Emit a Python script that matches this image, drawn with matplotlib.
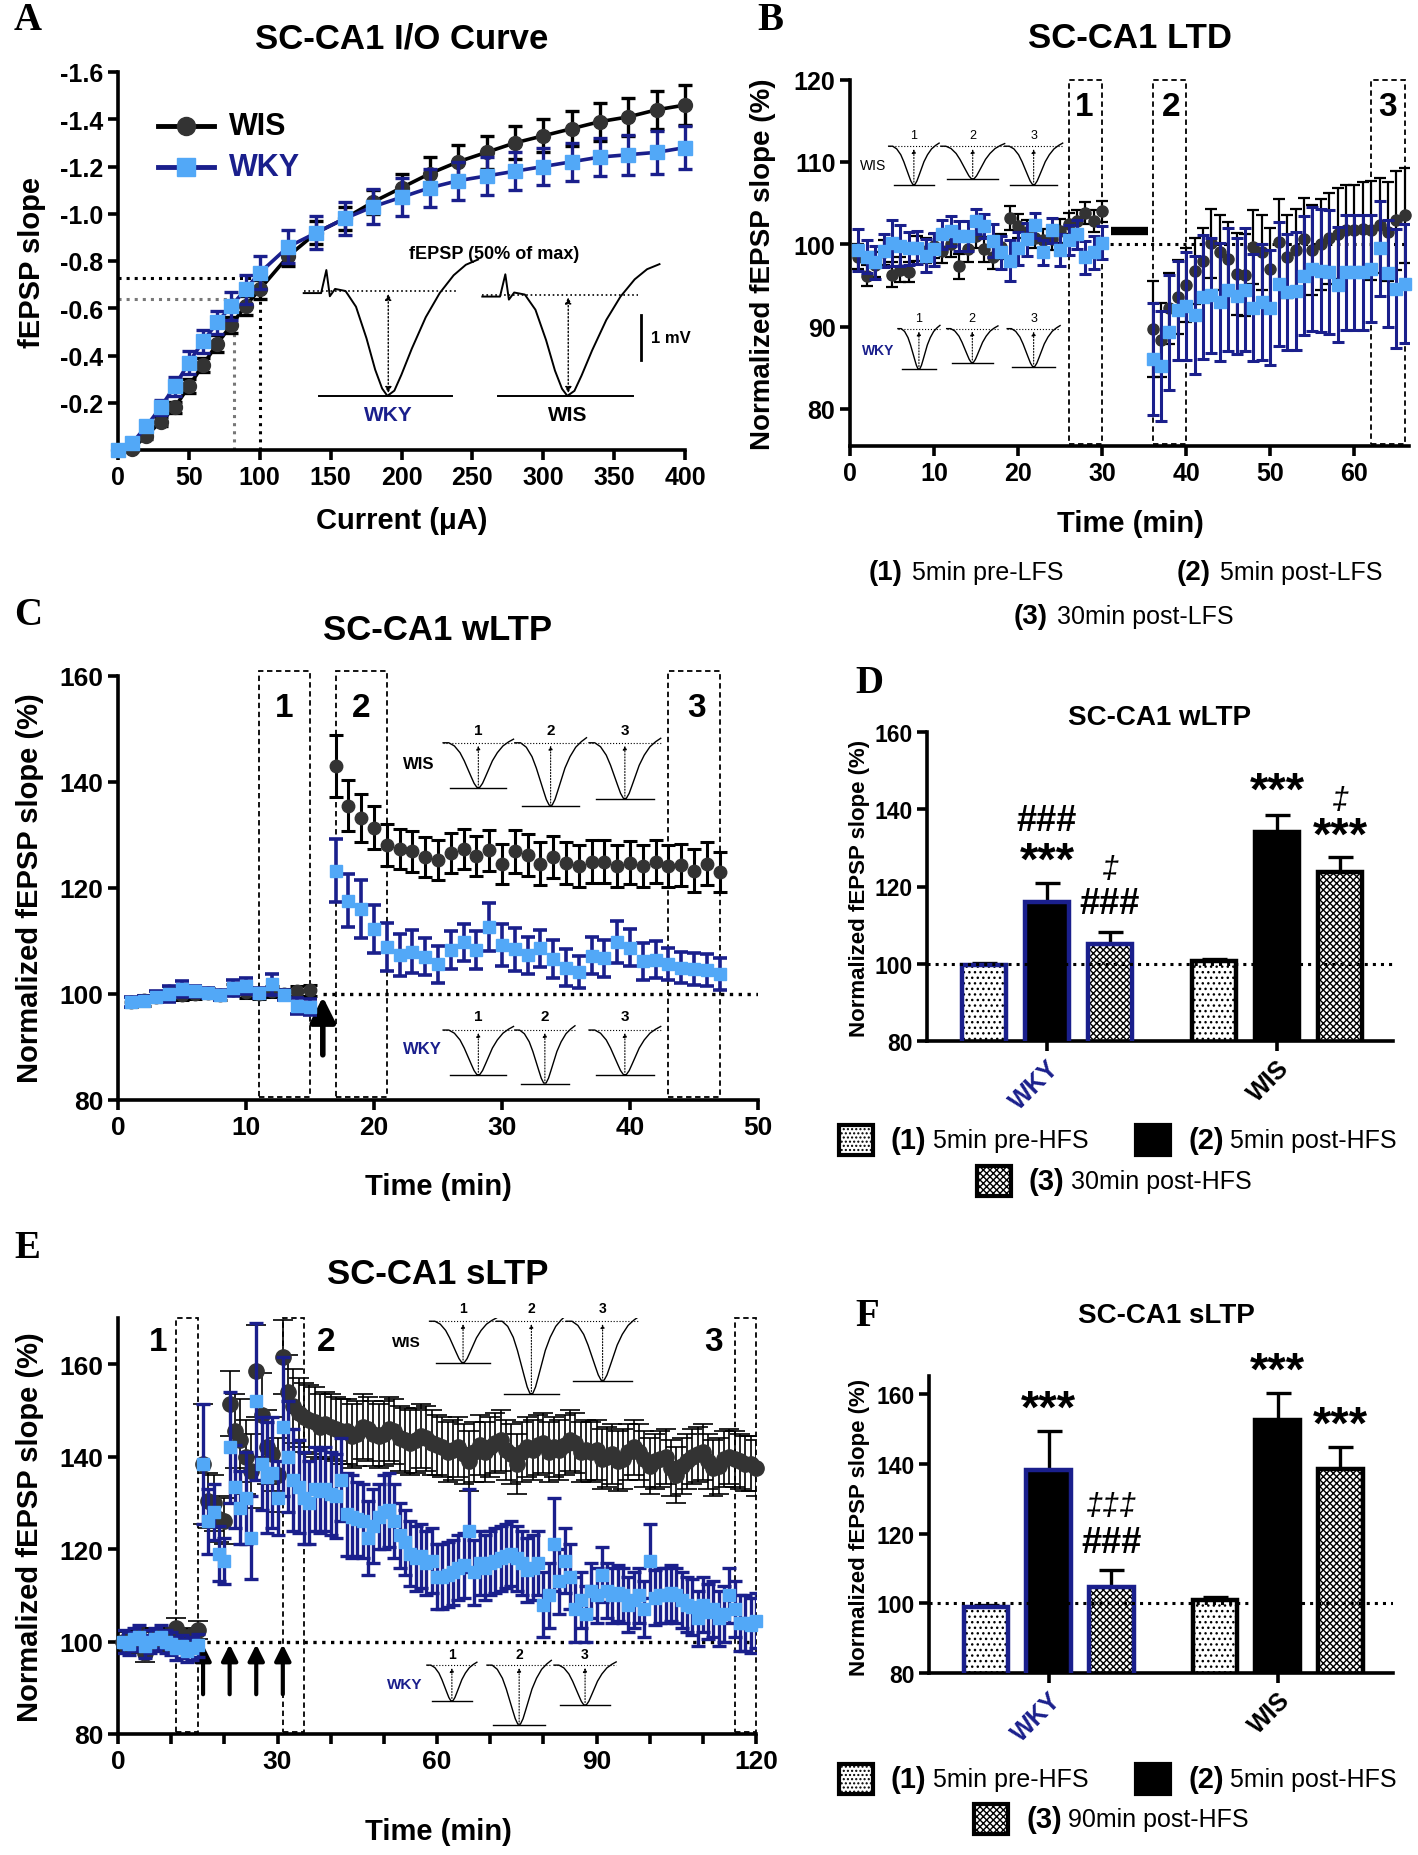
import numpy as np
import matplotlib.pyplot as plt
from matplotlib.patches import Rectangle

plt.rcParams['font.family'] = ['Liberation Sans', 'DejaVu Sans']
plt.rcParams['axes.unicode_minus'] = False
plt.rcParams['hatch.linewidth'] = 1.0

W, H = 1418, 1856
NAVY = '#1a1f8c'
LIGHT = '#52a8f7'
DARK = '#333333'

# ---------------- data ----------------
# A: input/output curve
io_current = [0, 10, 20, 30, 40, 50, 60, 70, 80, 90, 100, 120, 140, 160, 180, 200,
              220, 240, 260, 280, 300, 320, 340, 360, 380, 400]
io_wis = [0, -0.005, -0.06, -0.12, -0.18, -0.27, -0.36, -0.45, -0.53, -0.61, -0.68, -0.82,
          -0.92, -0.98, -1.05, -1.11, -1.17, -1.22, -1.26, -1.30, -1.33, -1.36, -1.39,
          -1.41, -1.44, -1.46]
io_wis_err = [0, 0.01, 0.015, 0.02, 0.025, 0.03, 0.03, 0.035, 0.035, 0.04, 0.04, 0.04,
              0.05, 0.05, 0.05, 0.06, 0.07, 0.07, 0.07, 0.07, 0.07, 0.075, 0.08, 0.08,
              0.08, 0.085]
io_wky = [0, -0.03, -0.10, -0.18, -0.27, -0.37, -0.46, -0.54, -0.61, -0.68, -0.75, -0.86,
          -0.92, -0.98, -1.03, -1.07, -1.11, -1.14, -1.16, -1.18, -1.20, -1.22, -1.24,
          -1.25, -1.26, -1.28]
io_wky_err = [0, 0.015, 0.02, 0.03, 0.04, 0.05, 0.05, 0.05, 0.06, 0.06, 0.07, 0.07, 0.07,
              0.07, 0.075, 0.08, 0.08, 0.08, 0.08, 0.08, 0.08, 0.08, 0.08, 0.085, 0.09, 0.09]

# B: LTD time course
ltd_time = list(range(1, 31)) + list(range(36, 67))
ltd_wis = [98.5, 96.2, 97.5, 99.0, 96.3, 96.9, 96.6, 99.5, 99.2, 99.8, 99.2, 100.0, 97.3,
           99.4, 101.0, 99.4, 98.5, 99.7, 103.2, 102.2, 101.5, 100.8, 100.5, 100.6, 101.6,
           102.5, 102.8, 103.8, 102.8, 104.0,
           89.7, 88.4, 92.2, 93.6, 95.0, 96.8, 98.0, 100.1, 99.0, 98.2, 96.4, 96.3, 99.7,
           99.0, 97.0, 100.3, 98.5, 99.3, 100.6, 99.3, 100.0, 100.7, 101.3, 101.7, 101.7,
           101.8, 101.7, 102.3, 101.5, 102.9, 103.5]
ltd_wis_err = [1.5, 1.3, 1.5, 1.5, 1.5, 1.5, 1.2, 1.5, 1.5, 1.5, 1.5, 1.5, 1.5, 1.5, 1.5,
               1.5, 1.5, 1.5, 1.5, 1.5, 1.5, 1.3, 1.3, 1.3, 1.5, 1.3, 1.3, 1.3, 1.3, 1.3,
               5.8, 4.5, 4.3, 4.5, 4.5, 4.0, 4.0, 4.2, 4.5, 4.5, 5.0, 5.0, 4.5, 4.5, 5.0,
               5.2, 5.0, 5.0, 5.0, 5.5, 5.5, 5.5, 5.5, 5.5, 5.5, 5.8, 6.0, 5.8, 6.0, 6.0, 5.8]
ltd_wky = [99.3, 98.5, 97.8, 99.2, 100.2, 99.8, 99.5, 99.6, 98.6, 99.4, 101.2, 101.6, 101.0,
           101.0, 102.8, 102.2, 100.4, 99.0, 98.0, 99.5, 100.6, 102.3, 99.0, 101.7, 99.3,
           100.5, 101.2, 98.4, 99.0, 100.2,
           86.1, 85.2, 89.3, 92.0, 92.5, 91.4, 93.6, 93.8, 93.0, 94.5, 93.7, 94.5, 92.3,
           93.0, 92.3, 95.2, 94.2, 94.3, 96.2, 97.0, 96.8, 96.6, 95.1, 96.6, 96.6, 96.6,
           97.0, 99.5, 96.5, 94.6, 95.2]
ltd_wky_err = [2.5, 2.0, 2.0, 2.0, 2.8, 2.5, 2.0, 2.0, 2.0, 2.0, 1.8, 1.8, 1.8, 1.8, 1.5,
               1.5, 2.0, 2.0, 2.5, 2.0, 2.0, 1.5, 1.5, 1.5, 2.0, 1.8, 1.8, 2.0, 2.0, 2.0,
               6.8, 6.7, 7.0, 6.0, 6.5, 7.2, 7.5, 7.0, 7.2, 7.5, 7.0, 7.5, 6.5, 7.0, 7.0,
               7.5, 7.0, 7.2, 7.2, 7.5, 7.5, 7.5, 7.0, 7.0, 7.0, 7.0, 6.5, 5.8, 6.5, 7.2, 7.2]

# C: weak LTP time course
wltp_time = list(range(1, 16)) + list(range(17, 48))
wltp_wis = [98.5, 98.8, 99.5, 100.5, 99.8, 100.0, 100.2, 99.8, 100.8, 100.3, 100.0, 100.5,
            100.0, 100.6, 100.7,
            143.0, 135.5, 133.2, 131.4, 128.1, 127.3, 126.9, 125.9, 125.3, 126.6, 127.4,
            126.1, 127.1, 124.5, 126.9, 126.2, 124.6, 125.9, 124.7, 124.2, 125.0, 125.0,
            124.1, 124.8, 124.2, 125.0, 124.2, 124.3, 123.3, 124.6, 123.0]
wltp_wis_err = [1.0] * 15 + [5.8, 4.8, 4.5, 4.0, 4.0, 3.8, 3.8, 3.8, 3.8, 3.8, 3.8, 3.8,
                             3.8, 3.8, 4.0, 4.0, 4.0, 4.0, 4.0, 4.0, 4.0, 4.0, 4.0, 4.0,
                             4.0, 4.0, 4.0, 4.0, 4.0, 4.0, 3.8]
wltp_wky = [98.5, 98.7, 99.5, 100.0, 101.0, 100.5, 100.2, 99.8, 101.2, 101.5, 100.2, 101.8,
            99.8, 97.8, 97.5,
            123.3, 117.6, 116.1, 112.3, 108.9, 107.4, 108.0, 107.0, 105.6, 108.3, 109.8,
            108.3, 112.7, 109.2, 108.4, 107.3, 108.6, 106.6, 105.0, 104.2, 107.2, 106.7,
            109.8, 108.7, 106.2, 106.5, 105.6, 105.0, 104.7, 104.5, 103.8]
wltp_wky_err = [1.0, 1.0, 1.0, 1.5, 1.5, 1.0, 1.0, 1.0, 1.5, 1.5, 1.0, 2.0, 1.0, 1.5, 1.5,
                6.0, 5.0, 5.5, 4.5, 4.5, 4.0, 4.0, 3.5, 3.5, 3.5, 3.5, 3.5, 4.5, 4.0, 4.0,
                3.5, 3.5, 3.5, 3.5, 3.0, 3.5, 3.5, 4.0, 3.5, 3.5, 3.5, 3.0, 3.0, 3.0, 3.0, 3.0]

# E: strong LTP time course (1 min bins)
sltp_time = list(range(1, 121))
sltp_wis = [100, 100.5, 100, 101, 97.5, 100, 101, 100.5, 100, 101,
            103, 100.5, 101, 99.5, 102.5, 138.5, 130.5, 130, 126.5, 126,
            151.5, 145.5, 143.5, 140, 137, 158.5, 149, 142, 140.5, 136,
            161.5, 154, 151, 149.5, 148.5, 148, 147.5, 146.5, 147, 146.5,
            146, 145.5, 145.5, 144.5, 145, 146.5, 146, 145, 144.5, 145,
            146, 145.5, 144, 143.5, 143, 143.5, 144.5, 144, 143, 142.5,
            142, 141, 141.5, 142, 140.5, 139, 141, 142.5, 141, 142,
            143, 143.5, 141.5, 140.5, 138.5, 141, 142, 141.5, 142.5, 143,
            141, 142, 141.5, 142.5, 143.5, 143, 141, 141.5, 141, 141.5,
            139.5, 140, 140.5, 139, 139.5, 141, 142, 141, 139.5, 138,
            139, 139.5, 140, 137.5, 136, 138, 139, 140, 140.5, 141,
            139, 137.5, 138, 139.5, 140, 139.5, 139, 138.5, 138.5, 137.5]
sltp_wis_err = [2, 2, 2.5, 2, 2, 2, 2, 2, 2, 2,
                2, 2, 2, 2, 2, 13, 6, 6, 5, 5,
                7, 8, 9, 8, 8, 10, 9, 8, 8, 8,
                8, 8, 8, 7.5, 7.5, 7.5, 7.5, 7, 7, 7,
                7, 7, 7, 7, 7, 7, 7, 7, 7, 7,
                7, 7, 7, 7, 7, 7, 7, 7, 7, 6.5,
                6.5, 6.5, 6.5, 6.5, 6.5, 6.5, 6.5, 6.5, 6.5, 6.5,
                6.5, 6.5, 6.5, 6.5, 6.5, 6.5, 6.5, 6.5, 6.5, 6.5,
                6.5, 6.5, 6.5, 6.5, 6.5, 6.5, 6.5, 6.5, 6.5, 6.5,
                6.5, 6.5, 6.5, 6.5, 6.5, 6, 6, 6, 6, 6,
                6, 6, 6, 6, 6, 6, 6, 6, 6, 6,
                6, 6, 6, 6, 6, 6, 6, 6, 6, 6]
sltp_wky = [100, 99.5, 100.5, 101, 99, 100, 100.5, 101, 100, 99.5,
            98.5, 99, 98, 98.5, 99.2, 138.5, 126, 128, 119, 117.5,
            142, 133.5, 129, 131, 122.5, 152, 138.5, 135.5, 136.5, 131,
            146.5, 140, 135, 133.5, 131, 130, 133, 132.5, 133, 132,
            131.5, 135, 127.5, 127, 126.5, 126, 122.5, 125, 127, 128,
            128.5, 126, 123, 121.5, 119, 118, 118.5, 117, 117.5, 114,
            114, 114.5, 115, 116, 116.5, 124, 115, 117, 116, 117,
            117.5, 118, 118.5, 119, 118, 117, 115.5, 116, 117, 108,
            110, 121, 113, 117.5, 114, 107, 109, 106, 111, 110,
            114.5, 111, 110, 110.5, 110, 108, 109, 110, 107, 117.5,
            109.5, 110, 110, 110.5, 110, 109, 108, 107.5, 105, 108,
            106.5, 107, 105, 106, 110, 107, 104, 104, 103.5, 104.5]
sltp_wky_err = [2.5, 2.5, 2.5, 2.5, 2.5, 2.5, 2.5, 2.5, 2.5, 2.5,
                2.5, 2.5, 2.5, 2.5, 2.5, 13, 7, 6, 6, 5,
                12, 9, 8, 10, 9, 17, 10, 12, 12, 8,
                15, 12, 11, 10, 10, 9, 9, 9, 9, 9,
                9, 9, 9, 9, 8, 8, 8, 8, 7, 8,
                8, 8, 7, 7, 7, 7, 7, 7, 7, 7,
                7, 7, 7, 7, 7, 9, 7, 7, 7, 7,
                7, 7, 7, 7, 7, 7, 7, 7, 7, 7,
                7, 10, 7, 7, 7, 7, 6, 6, 6, 6,
                6, 6, 6, 6, 6, 6, 6, 6, 6, 8,
                6, 6, 6, 6, 6, 6, 6, 6, 6, 6,
                6, 6, 6, 6, 6, 6, 6, 6, 6, 6]

# D / F: bar summaries (pre, post, late)
groups = ['WKY', 'WIS']
wltp_bar_wky = [99.8, 116.0, 105.2]
wltp_bar_wky_err = [0.3, 4.9, 2.9]
wltp_bar_wis = [100.8, 134.2, 123.8]
wltp_bar_wis_err = [0.5, 4.4, 3.9]
sltp_bar_wky = [98.8, 138.3, 104.8]
sltp_bar_wky_err = [0.8, 11.0, 4.8]
sltp_bar_wis = [100.8, 152.6, 138.6]
sltp_bar_wis_err = [1.0, 7.8, 6.1]

# illustrative fEPSP waveform (normalised shape for inset traces)
wave_x = [0.0, 0.08, 0.16, 0.24, 0.3, 0.35, 0.4, 0.44, 0.48, 0.52, 0.56, 0.6, 0.65,
          0.7, 0.77, 0.85, 0.93, 1.0]
wave_y = [1.0, 1.0, 0.93, 0.78, 0.6, 0.42, 0.24, 0.1, 0.01, 0.01, 0.1, 0.24, 0.42,
          0.6, 0.78, 0.93, 1.02, 1.08]

fig = plt.figure(figsize=(W / 100, H / 100), dpi=100)


def ftext(x, y, s, **kw):
    fig.text(x / W, 1 - y / H, s, **kw)


def style(ax, lsize=17):
    for side in ['top', 'right']:
        ax.spines[side].set_visible(False)
    for side in ['left', 'bottom']:
        ax.spines[side].set_linewidth(2.6)
    ax.tick_params(width=2.6, length=7, labelsize=lsize)
    for lab in ax.get_xticklabels() + ax.get_yticklabels():
        lab.set_fontweight('bold')


def dash_box(ax, x0, x1, y0, y1, num, nx, ny):
    ax.add_patch(Rectangle((x0, y0), x1 - x0, y1 - y0, fill=False, ls=(0, (3, 2)),
                           lw=1.3, ec='black', clip_on=False, zorder=1))
    ax.text(nx, ny, num, fontsize=24, fontweight='bold', ha='center', va='center')


def trace(ax, x0, x1, ytop, ybot, lw=1.0):
    xs = [x0 + w * (x1 - x0) for w in wave_x]
    ys = [ybot + w * (ytop - ybot) for w in wave_y]
    ax.plot(xs, ys, color='black', lw=lw, zorder=2)
    ax.plot([x0, x1], [ytop, ytop], color='black', lw=0.8, ls=':', zorder=2)
    xm = (x0 + x1) / 2
    ax.plot([x0 + 0.1 * (x1 - x0), x1 - 0.1 * (x1 - x0)], [ybot, ybot], color='black', lw=1.0)
    ax.annotate('', xy=(xm, ytop), xytext=(xm, ybot),
                arrowprops=dict(arrowstyle='-|>', ls=':', lw=0.8, color='black',
                                mutation_scale=6))


def series(ax, t, v, e, kind, ms=8, elw=1.6, cap=4):
    if kind == 'wis':
        ax.errorbar(t, v, yerr=e, fmt='none', ecolor='black', elinewidth=elw, capsize=cap,
                    capthick=elw, zorder=3)
        ax.plot(t, v, 'o', ms=ms, color=DARK, mec=DARK, zorder=4, clip_on=False)
    else:
        ax.errorbar(t, v, yerr=e, fmt='none', ecolor=NAVY, elinewidth=elw,
                    capsize=cap, capthick=elw, zorder=5)
        ax.plot(t, v, 's', ms=ms, color=LIGHT, mec=LIGHT, zorder=6, clip_on=False)


# ---------------- A ----------------
axA = fig.add_axes([118 / W, 1 - 451 / H, 567 / W, 378 / H])
axA.errorbar(io_current, io_wis, yerr=io_wis_err, color='black', lw=2.6, marker='o',
             ms=10, mfc=DARK, mec=DARK, ecolor='black', elinewidth=2.4, capsize=5,
             capthick=2.4, zorder=3, clip_on=False)
axA.errorbar(io_current, io_wky, yerr=io_wky_err, color=NAVY, lw=2.6, marker='s',
             ms=10, mfc=LIGHT, mec=LIGHT, ecolor=NAVY, elinewidth=2.4, capsize=5,
             capthick=2.4, zorder=4, clip_on=False)
axA.set_xlim(0, 400)
axA.set_ylim(0, -1.6)
axA.set_xticks(range(0, 401, 50))
axA.set_yticks([-0.2, -0.4, -0.6, -0.8, -1.0, -1.2, -1.4, -1.6])
axA.set_yticklabels(['-0.2', '-0.4', '-0.6', '-0.8', '-1.0', '-1.2', '-1.4', '-1.6'])
style(axA, 18)
axA.plot([0, 100], [-0.73, -0.73], ls=':', color='black', lw=2.2)
axA.plot([100, 100], [0, -0.68], ls=':', color='black', lw=2.2)
axA.plot([0, 82], [-0.64, -0.64], ls=':', color='#777777', lw=2.2)
axA.plot([82, 82], [0, -0.6], ls=':', color='#777777', lw=2.2)
# legend
axA.plot([28, 68], [-1.37, -1.37], color='black', lw=3.5)
axA.plot([48], [-1.37], 'o', ms=13, color=DARK)
axA.plot([28, 68], [-1.2, -1.2], color=NAVY, lw=3.5)
axA.plot([48], [-1.2], 's', ms=13, color=LIGHT)
axA.text(78, -1.37, 'WIS', fontsize=22, fontweight='bold', va='center')
axA.text(78, -1.2, 'WKY', fontsize=22, fontweight='bold', va='center', color=NAVY)
# inset traces
axA.text(265, -0.83, 'fEPSP (50% of max)', fontsize=13, fontweight='bold', ha='center',
         va='center')
a_wx = [0.0, 0.1, 0.13, 0.15, 0.18, 0.24, 0.3, 0.36, 0.41, 0.45, 0.48, 0.52, 0.56, 0.62,
        0.7, 0.78, 0.86, 0.93, 1.0]
a_wy = [0.98, 0.98, 1.2, 0.95, 1.02, 1.0, 0.85, 0.55, 0.25, 0.07, 0.0, 0.05, 0.2, 0.45,
        0.75, 0.98, 1.15, 1.25, 1.3]
for x0, x1, ytop, lab, col in [(131, 254, -0.673, 'WKY', NAVY),
                               (257, 382, -0.658, 'WIS', 'black')]:
    xs = [x0 + w * (x1 - x0) for w in a_wx]
    ys = [-0.229 + w * (ytop + 0.229) for w in a_wy]
    axA.plot(xs, ys, color='black', lw=1.4)
    axA.plot([x0, x0 + 0.88 * (x1 - x0)], [ytop, ytop], ls=':', color='black', lw=1.2)
    axA.plot([x0 + 0.09 * (x1 - x0), x0 + 0.85 * (x1 - x0)], [-0.229, -0.229],
             color='black', lw=1.4)
    xm = x0 + 0.485 * (x1 - x0)
    axA.annotate('', xy=(xm, ytop), xytext=(xm, -0.229),
                 arrowprops=dict(arrowstyle='<|-|>', ls=':', lw=1.0, color='black',
                                 mutation_scale=9))
    axA.text(xm, -0.15, lab, fontsize=15, fontweight='bold', ha='center', va='center',
             color=col)
axA.plot([369, 369], [-0.38, -0.57], color='black', lw=2)
axA.text(376, -0.475, '1 mV', fontsize=12, fontweight='bold', va='center')

ftext(14, 21, 'A', fontsize=28, fontweight='bold', family='Liberation Serif', va='center')
ftext(402, 39, 'SC-CA1 I/O Curve', fontsize=25, fontweight='bold', ha='center',
      va='center')
ftext(402, 521, 'Current (\u03bcA)', fontsize=21, fontweight='bold', ha='center',
      va='center')
ftext(32, 262, 'fEPSP slope', fontsize=21, fontweight='bold', ha='center', va='center',
      rotation=90)

# ---------------- B ----------------
axB = fig.add_axes([850 / W, 1 - 447 / H, 559 / W, 366.5 / H])
axB.plot([30, 66.5], [100, 100], ls=':', color='black', lw=2.2, zorder=1)
series(axB, ltd_time, ltd_wis, ltd_wis_err, 'wis', ms=8)
series(axB, ltd_time, ltd_wky, ltd_wky_err, 'wky', ms=8, elw=2.2)
axB.plot([31.1, 35.5], [101.6, 101.6], color='black', lw=6, solid_capstyle='butt')
axB.set_xlim(0, 66.5)
axB.set_ylim(75.5, 120)
axB.set_xticks(range(0, 61, 10))
axB.set_yticks([80, 90, 100, 110, 120])
style(axB, 18)
dash_box(axB, 26, 30, 75.7, 120, '1', 27.9, 116.7)
dash_box(axB, 36, 40, 75.7, 120, '2', 38.2, 116.7)
dash_box(axB, 62, 66, 75.7, 120, '3', 64.0, 116.7)
axB.text(2.7, 109.6, 'WIS', fontsize=10, va='center', ha='center')
for x0, x1, yb, n in [(4.6, 10.6, 107.2, '1'), (10.8, 18.4, 107.9, '2'),
                      (18.4, 25.3, 107.2, '3')]:
    trace(axB, x0, x1, 111.9, yb)
    axB.text((x0 + x1) / 2, 113.3, n, fontsize=9, ha='center', va='center')
axB.text(3.3, 87.2, 'WKY', fontsize=10, va='center', ha='center', color=NAVY,
         fontweight='bold')
for x0, x1, yb, n in [(5.7, 10.7, 84.8, '1'), (11.5, 17.6, 85.6, '2'),
                      (18.7, 25.0, 85.1, '3')]:
    trace(axB, x0, x1, 89.75, yb)
    axB.text((x0 + x1) / 2, 91.1, n, fontsize=9, ha='center', va='center')

ftext(757, 21, 'B', fontsize=28, fontweight='bold', family='Liberation Serif', va='center')
ftext(1130, 39, 'SC-CA1 LTD', fontsize=25, fontweight='bold', ha='center', va='center')
ftext(1130, 524, 'Time (min)', fontsize=21, fontweight='bold', ha='center', va='center')
ftext(763, 264, 'Normalized fEPSP slope (%)', fontsize=20, fontweight='bold',
      ha='center', va='center', rotation=90)
for x, y, num, txt in [(869, 573, '(1)', '5min pre-LFS'), (1177, 573, '(2)', '5min post-LFS'),
                       (1014, 617, '(3)', '30min post-LFS')]:
    ftext(x, y, num, fontsize=20, fontweight='bold', va='center')
    ftext(x + 43, y, txt, fontsize=18, va='center')

# ---------------- C ----------------
axC = fig.add_axes([118 / W, 1 - 1101 / H, 640 / W, 424 / H])
axC.plot([16, 50], [100, 100], ls=':', color='black', lw=2.4, zorder=1)
series(axC, wltp_time, wltp_wis, wltp_wis_err, 'wis', ms=9, elw=2.2, cap=5)
series(axC, wltp_time, wltp_wky, wltp_wky_err, 'wky', ms=9, elw=2.6, cap=5)
axC.set_xlim(0, 50)
axC.set_ylim(80, 160)
axC.set_xticks(range(0, 51, 10))
axC.set_yticks([80, 100, 120, 140, 160])
style(axC, 19)
dash_box(axC, 11, 15, 80.6, 161, '1', 13, 154)
dash_box(axC, 17, 21, 80.6, 161, '2', 19, 154)
dash_box(axC, 43, 47, 80.6, 161, '3', 45.2, 154)
axC.annotate('', xy=(16, 100), xytext=(16, 88),
             arrowprops=dict(arrowstyle='-|>', lw=4, color='black', mutation_scale=38))
axC.text(23.5, 143.5, 'WIS', fontsize=12, va='center', ha='center', fontweight='bold')
for x0, x1, yb, n in [(25.4, 30.9, 138.9, '1'), (31.0, 36.6, 135.5, '2'),
                      (36.8, 42.4, 136.8, '3')]:
    trace(axC, x0, x1, 147.4, yb)
    axC.text((x0 + x1) / 2, 149.8, n, fontsize=11, ha='center', va='center',
             fontweight='bold')
axC.text(23.8, 89.7, 'WKY', fontsize=12, va='center', ha='center', color=NAVY,
         fontweight='bold')
for x0, x1, yb, n in [(25.4, 30.9, 84.7, '1'), (31.0, 35.7, 83.1, '2'),
                      (36.8, 42.4, 84.7, '3')]:
    trace(axC, x0, x1, 93.2, yb)
    axC.text((x0 + x1) / 2, 95.8, n, fontsize=11, ha='center', va='center',
             fontweight='bold')

ftext(14, 616, 'C', fontsize=28, fontweight='bold', family='Liberation Serif', va='center')
ftext(438, 631, 'SC-CA1 wLTP', fontsize=25, fontweight='bold', ha='center', va='center')
ftext(438, 1187, 'Time (min)', fontsize=21, fontweight='bold', ha='center', va='center')
ftext(30, 888, 'Normalized fEPSP slope (%)', fontsize=21, fontweight='bold',
      ha='center', va='center', rotation=90)


# ---------------- bar panels ----------------
def bar_panel(ax, wky, wky_err, wis, wis_err, top):
    fills = [('white', '...'), ('black', None), ('white', 'xxxxx')]
    for pos, vals, errs, edge in [([-1, 0, 1], wky, wky_err, NAVY),
                                  ([2.65, 3.65, 4.65], wis, wis_err, 'black')]:
        for i in range(3):
            fc, hatch = fills[i]
            ax.bar(pos[i], vals[i], width=0.71, color=fc, hatch=hatch, edgecolor='black',
                   linewidth=0, zorder=2)
            ax.bar(pos[i], vals[i], width=0.71, fill=False, edgecolor=edge, linewidth=3.2,
                   zorder=3)
            ax.errorbar(pos[i], vals[i], yerr=[[0], [errs[i]]], fmt='none', ecolor='black',
                        elinewidth=2.4, capsize=9, capthick=2.4, zorder=1)
    ax.axhline(100, ls=':', color='black', lw=2.2, zorder=4)
    ax.set_xlim(-1.905, 5.49)
    ax.set_ylim(80, top)
    ax.set_yticks([80, 100, 120, 140, 160])
    ax.set_xticks([0, 3.65])
    ax.set_xticklabels(groups, rotation=45, ha='right', rotation_mode='anchor')
    style(ax, 16.5)
    ax.get_xticklabels()[0].set_color(NAVY)
    ax.tick_params(axis='x', labelsize=18)
    ax.tick_params(axis='y', pad=3)


def bar_legend(y1, y2, xs, late):
    specs = [(xs[0], y1, 'white', '....', '(1)', '5min pre-HFS'),
             (xs[1], y1, 'black', None, '(2)', '5min post-HFS'),
             (xs[2], y2, 'white', 'xxxxx', '(3)', late)]
    for x, y, fc, hatch, num, txt in specs:
        fig.patches.append(Rectangle((x / W, 1 - (y + 15) / H), 34 / W, 30 / H,
                                     transform=fig.transFigure, facecolor=fc, hatch=hatch,
                                     edgecolor='black', linewidth=3))
        ftext(x + 52, y, num, fontsize=21, fontweight='bold', va='center')
        ftext(x + 94, y, txt, fontsize=18, va='center')


axD = fig.add_axes([927 / W, 1 - 1042 / H, 466 / W, 309 / H])
bar_panel(axD, wltp_bar_wky, wltp_bar_wky_err, wltp_bar_wis, wltp_bar_wis_err, 160)
axD.text(0, 137.1, '###', fontsize=26, fontweight='bold', ha='center', va='center')
axD.text(0, 126.5, '***', fontsize=34, fontweight='bold', ha='center', va='center')
axD.text(1, 124.5, '\u2021', fontsize=22, style='italic', ha='center', va='center')
axD.text(1, 115.6, '###', fontsize=26, fontweight='bold', ha='center', va='center')
axD.text(3.65, 144.5, '***', fontsize=34, fontweight='bold', ha='center', va='center')
axD.text(4.65, 142.5, '\u2021', fontsize=22, style='italic', ha='center', va='center')
axD.text(4.65, 132.8, '***', fontsize=34, fontweight='bold', ha='center', va='center')
ftext(855, 684, 'D', fontsize=28, fontweight='bold', family='Liberation Serif',
      va='center')
ftext(1160, 718, 'SC-CA1 wLTP', fontsize=20, fontweight='bold', ha='center', va='center')
ftext(860, 888, 'Normalized fEPSP slope (%)', fontsize=16, fontweight='bold',
      ha='center', va='center', rotation=90)
bar_legend(1141, 1182, [839, 1136, 977], '30min post-HFS')

# ---------------- E ----------------
axE = fig.add_axes([118 / W, 1 - 1735 / H, 638 / W, 416 / H])
axE.plot([15, 120], [100, 100], ls=':', color='black', lw=2.4, zorder=1)
series(axE, sltp_time, sltp_wis, sltp_wis_err, 'wis', ms=11, elw=1.2, cap=7)
series(axE, sltp_time, sltp_wky, sltp_wky_err, 'wky', ms=8, elw=2.4, cap=5)
axE.set_xlim(0, 120)
axE.set_ylim(80, 170)
axE.set_xticks(range(0, 121, 30))
axE.set_xticks(range(0, 121, 10), minor=True)
axE.set_yticks([80, 100, 120, 140, 160])
style(axE, 19)
axE.tick_params(which='minor', width=2.6, length=7)
dash_box(axE, 11, 15, 80.4, 170, '', 0, 0)
dash_box(axE, 31, 35, 80.4, 170, '', 0, 0)
dash_box(axE, 116, 120, 80.4, 170, '', 0, 0)
axE.text(7.5, 165, '1', fontsize=24, fontweight='bold', ha='center', va='center')
axE.text(39.2, 165, '2', fontsize=24, fontweight='bold', ha='center', va='center')
axE.text(112, 165, '3', fontsize=24, fontweight='bold', ha='center', va='center')
for xa in [16, 21, 26, 31]:
    axE.annotate('', xy=(xa, 100), xytext=(xa, 88),
                 arrowprops=dict(arrowstyle='-|>', lw=3, color='black',
                                 mutation_scale=24))
axE.text(54.2, 164.9, 'WIS', fontsize=11, va='center', ha='center', fontweight='bold')
for x0, x1, yb, n in [(58.6, 71.2, 160.3, '1'), (71.2, 84.3, 153.5, '2'),
                      (84.3, 98.0, 156.4, '3')]:
    trace(axE, x0, x1, 169.3, yb)
    axE.text((x0 + x1) / 2, 172.2, n, fontsize=10, ha='center', va='center',
             fontweight='bold')
axE.text(53.9, 90.9, 'WKY', fontsize=11, va='center', ha='center', color=NAVY,
         fontweight='bold')
for x0, x1, yb, n in [(58.1, 67.5, 87.1, '1'), (69.4, 81.5, 82.0, '2'),
                      (82.0, 93.7, 86.2, '3')]:
    trace(axE, x0, x1, 94.9, yb)
    axE.text((x0 + x1) / 2, 97.3, n, fontsize=10, ha='center', va='center',
             fontweight='bold')

ftext(14, 1249, 'E', fontsize=28, fontweight='bold', family='Liberation Serif',
      va='center')
ftext(438, 1275, 'SC-CA1 sLTP', fontsize=25, fontweight='bold', ha='center', va='center')
ftext(438, 1832, 'Time (min)', fontsize=21, fontweight='bold', ha='center', va='center')
ftext(30, 1527, 'Normalized fEPSP slope (%)', fontsize=21, fontweight='bold',
      ha='center', va='center', rotation=90)

# ---------------- F ----------------
axF = fig.add_axes([929 / W, 1 - 1674 / H, 464 / W, 297 / H])
bar_panel(axF, sltp_bar_wky, sltp_bar_wky_err, sltp_bar_wis, sltp_bar_wis_err, 165.2)
axF.text(0, 155.5, '***', fontsize=34, fontweight='bold', ha='center', va='center')
axF.text(1, 128.0, '\u2021\u2021\u2021', fontsize=22, style='italic', ha='center',
         va='center')
axF.text(1, 117.4, '###', fontsize=26, fontweight='bold', ha='center', va='center')
axF.text(3.65, 166.5, '***', fontsize=34, fontweight='bold', ha='center', va='center')
axF.text(4.65, 151.0, '***', fontsize=34, fontweight='bold', ha='center', va='center')
ftext(855, 1316, 'F', fontsize=28, fontweight='bold', family='Liberation Serif',
      va='center')
ftext(1166, 1316, 'SC-CA1 sLTP', fontsize=20, fontweight='bold', ha='center',
      va='center')
ftext(860, 1527, 'Normalized fEPSP slope (%)', fontsize=16, fontweight='bold',
      ha='center', va='center', rotation=90)
bar_legend(1780, 1820, [839, 1136, 974], '90min post-HFS')

fig.savefig('out.png', dpi=100)
